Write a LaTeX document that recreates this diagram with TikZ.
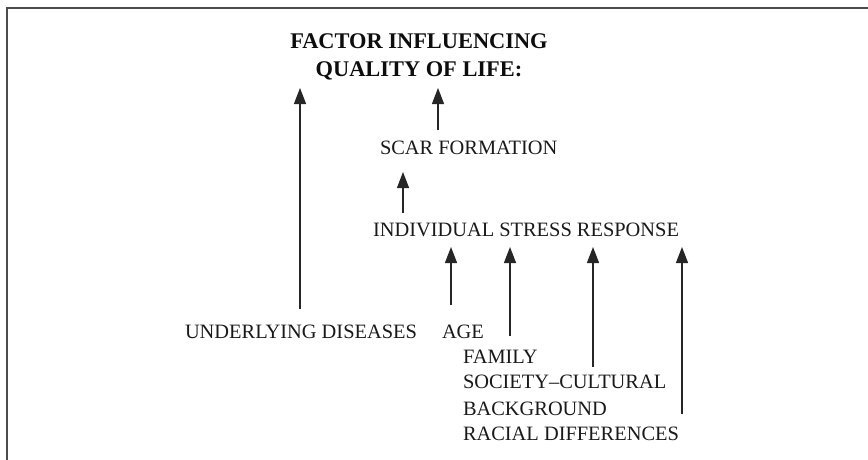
\documentclass[tikz,border=0pt]{standalone}
\usepackage{fontspec}
\setmainfont{Liberation Serif}
\usetikzlibrary{arrows.meta}
\begin{document}
\begin{tikzpicture}[x=1pt,y=-1pt,
  lbl/.style={inner sep=0pt,outer sep=0pt,text height=13.5pt,text depth=0pt,font=\fontsize{20.4}{25}\selectfont,text=black!90,anchor=base west},
  ttl/.style={inner sep=0pt,outer sep=0pt,align=center,font=\bfseries\fontsize{22.4}{28}\selectfont,text=black!95,anchor=south},
  arr/.style={draw=black!85,line width=1.3pt,-{Triangle[width=12pt,length=16pt]}},
  frm/.style={draw=black!70,line width=2pt}]
\useasboundingbox (0,0) rectangle (868,460);
\draw[frm] (7,461) -- (7,8) -- (869,8);
\node[ttl] (title) at (419,80) {FACTOR INFLUENCING\\QUALITY OF LIFE:};
\node[lbl] (scar) at (380,154) {SCAR FORMATION};
\node[lbl] (ind) at (373,236) {INDIVIDUAL STRESS RESPONSE};
\node[lbl] (und) at (185,338) {UNDERLYING DISEASES};
\node[lbl] (age) at (442,338) {AGE};
\node[lbl] (fam) at (463,363) {FAMILY};
\node[lbl] (soc) at (463,388) {SOCIETY–CULTURAL};
\node[lbl] (bkg) at (463,415) {BACKGROUND};
\node[lbl] (rac) at (463,440) {RACIAL DIFFERENCES};
\coordinate (x1) at (300,0);
\coordinate (x2) at (438,0);
\coordinate (x3) at (403,0);
\coordinate (x4) at (451,0);
\coordinate (x5) at (510,0);
\coordinate (x6) at (593,0);
\coordinate (x7) at (682,0);
\draw[arr,shorten <=15.5pt,shorten >=8pt] (und.north -| x1) -- (title.south -| x1);
\draw[arr,shorten <=10.5pt,shorten >=8pt] (scar.north -| x2) -- (title.south -| x2);
\draw[arr,shorten <=9.5pt,shorten >=18pt] (ind.north -| x3) -- (scar.south -| x3);
\draw[arr,shorten <=19.5pt,shorten >=11pt] (age.north -| x4) -- (ind.south -| x4);
\draw[arr,shorten <=13.5pt,shorten >=11pt] (fam.north -| x5) -- (ind.south -| x5);
\draw[arr,shorten <=7.5pt,shorten >=11pt] (soc.north -| x6) -- (ind.south -| x6);
\draw[arr,shorten <=12.5pt,shorten >=11pt] (rac.north -| x7) -- (ind.south -| x7);
\end{tikzpicture}
\end{document}
